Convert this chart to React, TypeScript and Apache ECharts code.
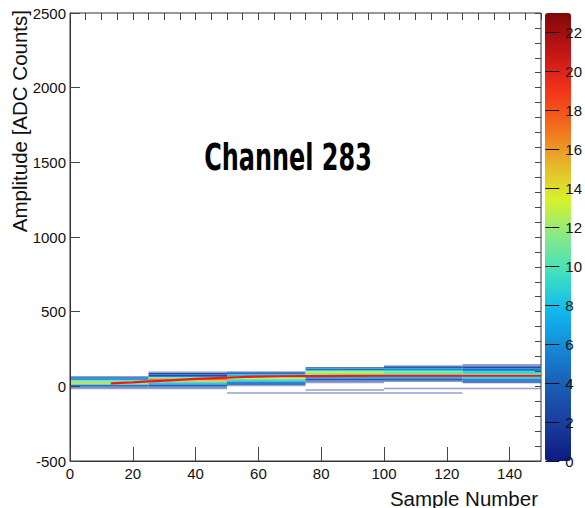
import React, { useEffect, useRef } from "react";
import * as echarts from "echarts";

// ---- data ----
const X_EDGES = [0, 25, 50, 75, 100, 125, 150];
const Y_BIN = 10;
// per column: [lower ADC edge of bin, entries]
const COL_1 = [[60, 1], [50, 4], [40, 7], [30, 10], [20, 14], [10, 11], [0, 5], [-10, 2], [-20, 1]];
const COL_2 = [[90, 1], [80, 3], [70, 3], [60, 6], [50, 11], [40, 17], [30, 15], [20, 10], [10, 7], [0, 4], [-10, 2], [-20, 1]];
const COL_3 = [[90, 2], [80, 5], [70, 8], [60, 12], [50, 13], [40, 11], [30, 8], [20, 6], [10, 3], [0, 1], [-50, 1]];
const COL_4 = [[120, 2], [110, 5], [100, 9], [90, 13], [80, 12], [70, 10], [60, 8], [50, 6], [40, 4], [30, 2], [20, 1], [-30, 1], [-50, 1]];
const COL_5 = [[130, 2], [120, 4], [110, 6], [100, 9], [90, 11], [80, 11], [70, 10], [60, 8], [50, 6], [40, 4], [30, 2], [-20, 1], [-50, 1]];
const COL_6 = [[140, 1], [130, 2], [120, 3], [110, 5], [100, 6], [90, 9], [80, 10], [70, 11], [60, 10], [50, 8], [40, 6], [30, 4], [20, 2], [-20, 1]];
const COLUMNS = [COL_1, COL_2, COL_3, COL_4, COL_5, COL_6];

// fitted pulse shape (red curve)
const FIT_X = [13, 20, 25, 30, 40, 52, 60, 75, 100, 125, 150];
const FIT_Y = [20, 27, 33, 38, 50, 60, 65, 69, 71, 71, 71];

const X_MAJOR_TICKS = [0, 20, 40, 60, 80, 100, 120, 140];
const Z_TICKS = [0, 2, 4, 6, 8, 10, 12, 14, 16, 18, 20, 22];
const Z_MAX = 23;

const PALETTE = [
  "#0c1a7e", "#1a3d9e", "#1b5cb5", "#1587d6", "#10b8ee", "#3edfc0",
  "#86e98a", "#d6f22a", "#e8b22a", "#f26a1c", "#f2301a", "#c01515", "#800808",
];

const FONT = '"Liberation Sans", Arial, Helvetica, sans-serif';

export default function App() {
  const ref = useRef<HTMLDivElement>(null);
  useEffect(() => {
    document.body.style.margin = "0";
    const chart = echarts.init(ref.current!, null, { renderer: "svg" });

    const cells: number[][] = [];
    COLUMNS.forEach((col, i) => {
      col.forEach(([y, c]) => {
        cells.push([X_EDGES[i], X_EDGES[i + 1], y, y + Y_BIN, c]);
      });
    });

    const gridL = 70, gridT = 13, gridW = 471, gridH = 448;
    const plain = (v: number) => String(v);

    chart.setOption({
      animation: false,
      backgroundColor: "#ffffff",
      textStyle: { fontFamily: FONT },
      grid: [
        { left: gridL, top: gridT, width: gridW, height: gridH, show: true, borderColor: "#333", borderWidth: 1, backgroundColor: "transparent" },
        { left: 545, top: gridT, width: 26, height: gridH, show: false },
      ],
      xAxis: [
        {
          type: "value", gridIndex: 0, min: 0, max: 150, z: 10,
          axisLine: { show: true, onZero: false, lineStyle: { color: "#333" } },
          axisTick: { show: true, inside: true, length: 14, customValues: X_MAJOR_TICKS, lineStyle: { color: "#444" } },
          axisLabel: { show: true, customValues: X_MAJOR_TICKS, fontSize: 15, color: "#111", margin: 5, fontFamily: FONT, formatter: plain },
          splitLine: { show: false },
        },
        {
          type: "value", gridIndex: 0, min: 0, max: 150, interval: 5, z: 10,
          axisLine: { show: false, onZero: false },
          axisTick: { show: true, inside: true, length: 7, lineStyle: { color: "#444" } },
          axisLabel: { show: false },
          splitLine: { show: false },
        },
        { type: "value", gridIndex: 1, min: 0, max: 1, show: false },
      ],
      yAxis: [
        {
          type: "value", gridIndex: 0, min: -500, max: 2500, interval: 500, z: 10,
          axisLine: { show: true, onZero: false, lineStyle: { color: "#333" } },
          axisTick: { show: true, inside: true, length: 10, lineStyle: { color: "#444" } },
          axisLabel: { show: true, fontSize: 15, color: "#111", margin: 4, fontFamily: FONT, formatter: plain },
          splitLine: { show: false },
        },
        {
          type: "value", gridIndex: 0, min: -500, max: 2500, interval: 100, z: 10,
          axisLine: { show: false, onZero: false },
          axisTick: { show: true, inside: true, length: 6, lineStyle: { color: "#444" } },
          axisLabel: { show: false },
          splitLine: { show: false },
        },
        {
          type: "value", gridIndex: 1, min: 0, max: Z_MAX, position: "right", z: 10,
          axisLine: { show: false, onZero: false },
          axisTick: { show: true, inside: true, length: 14, customValues: Z_TICKS, lineStyle: { color: "#111" } },
          axisLabel: { show: true, customValues: Z_TICKS, fontSize: 15, color: "#111", margin: 6, fontFamily: FONT, formatter: plain },
          splitLine: { show: false },
        },
      ],
      visualMap: {
        type: "continuous",
        seriesIndex: 0,
        dimension: 4,
        min: 0,
        max: Z_MAX,
        left: 545,
        top: gridT,
        itemWidth: 26,
        itemHeight: gridH,
        padding: 0,
        calculable: false,
        text: null,
        showLabel: false,
        inRange: { color: PALETTE },
      },
      series: [
        {
          type: "custom",
          xAxisIndex: 0,
          yAxisIndex: 0,
          encode: { x: [0, 1], y: [2, 3] },
          data: cells,
          renderItem: (params: any, api: any) => {
            const p0 = api.coord([api.value(0), api.value(3)]);
            const p1 = api.coord([api.value(1), api.value(2)]);
            const n = api.value(4);
            return {
              type: "rect",
              shape: { x: p0[0], y: p0[1], width: p1[0] - p0[0], height: p1[1] - p0[1] },
              style: { fill: api.visual("color"), opacity: n <= 1 ? 0.45 : n <= 2 ? 0.7 : 1 },
            };
          },
          z: 2,
        },
        {
          type: "line",
          xAxisIndex: 0,
          yAxisIndex: 0,
          data: FIT_X.map((x, i) => [x, FIT_Y[i]]),
          smooth: 0.4,
          showSymbol: false,
          lineStyle: { color: "#f01818", width: 2.2 },
          z: 5,
        },
      ],
      graphic: [
        {
          type: "text", x: 19, y: 10, rotation: Math.PI / 2,
          style: { text: "Amplitude [ADC Counts]", fontSize: 20.5, fontFamily: FONT, fill: "#111", align: "right", verticalAlign: "middle" },
        },
        {
          type: "text", x: 538, y: 498,
          style: { text: "Sample Number", fontSize: 20.5, fontFamily: FONT, fill: "#111", align: "right", verticalAlign: "middle" },
        },
        {
          type: "text", x: 288, y: 157, scaleX: 0.72,
          style: { text: "Channel 283", fontSize: 37, fontWeight: "bold", fontFamily: '"DejaVu Sans Condensed", "Liberation Sans Narrow", sans-serif', fill: "#000", align: "center", verticalAlign: "middle" },
        },
      ],
    });
    return () => chart.dispose();
  }, []);
  return <div ref={ref} style={{ width: 585, height: 508 }} />;
}
